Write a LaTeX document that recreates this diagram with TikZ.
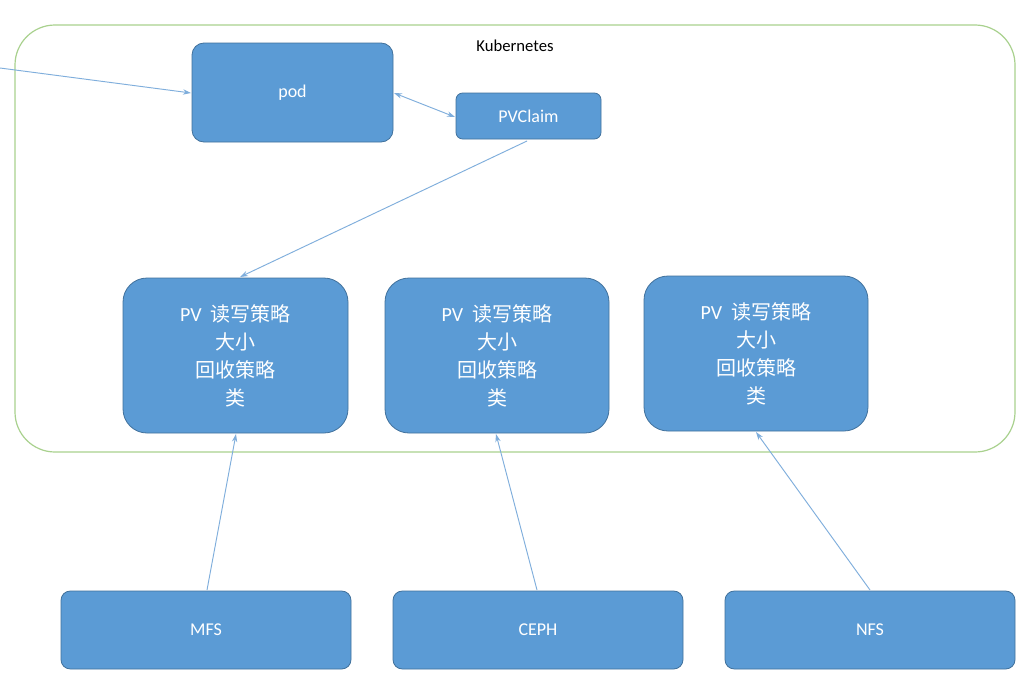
\documentclass[tikz,border=0pt]{standalone}
\usepackage{fontspec}
\setmainfont{Carlito}
\newfontfamily\cjk{Noto Sans CJK SC}
\usetikzlibrary{arrows.meta}
\definecolor{bfill}{HTML}{5B9BD5}
\definecolor{bdraw}{HTML}{41719C}
\definecolor{gline}{HTML}{A9D18E}
\definecolor{aline}{HTML}{7FAEDC}
\begin{document}
\begin{tikzpicture}[x=0.75pt,y=-0.75pt,
  box/.style={draw=bdraw,fill=bfill,rounded corners=9pt,text=white,font=\fontsize{13.5}{16}\selectfont,line width=0.6pt},
  pv/.style={box,rounded corners=18pt,align=center,font=\fontsize{15}{21}\selectfont},
  conn/.style={draw=aline,line width=0.7pt,-{Stealth[length=6pt,width=4pt]}}]
\useasboundingbox (0,0) rectangle (1024,678);
\fill[white] (0,0) rectangle (1024,678);
\draw[gline,line width=0.9pt,rounded corners=30pt] (15,25) rectangle (1015,452);
\node[font=\fontsize{12.5}{14}\selectfont] (k8s) at (515,46) {Kubernetes};
\node[box,minimum width=201\pgflinewidth] (pod) at (292.5,92.5) {};
\path[box] (192,43) rectangle (393,142);
\node[text=white,font=\fontsize{13.5}{16}\selectfont] (podt) at (292.5,92.5) {pod};
\path[box,rounded corners=5pt] (456,93) rectangle (601,139);
\node[text=white,font=\fontsize{13.5}{16}\selectfont] (pvc) at (528.5,116) {PVClaim};
\foreach \n/\xa/\ya/\xb/\yb in {pv1/123/278/348/433,pv2/385/278/609/433,pv3/644/276/868/431}{
  \path[pv] (\xa,\ya) rectangle (\xb,\yb);
  \node[text=white,align=center,font=\fontsize{15}{21}\selectfont] (\n) at ({(\xa+\xb)/2},{(\ya+\yb)/2}) {PV\ \ {\cjk 读写策略}\\{\cjk 大小}\\{\cjk 回收策略}\\{\cjk 类}};
}
\foreach \n/\xa/\t in {mfs/61/MFS,ceph/393/CEPH,nfs/725/NFS}{
  \path[box,rounded corners=7pt] (\xa,591) rectangle (\xa+290,669);
  \node[text=white,font=\fontsize{13.5}{16}\selectfont] (\n) at (\xa+145,630) {\t};
}
\coordinate (ext) at (0,68);
\coordinate (podL) at (191,93);
\coordinate (podR) at (394,93);
\coordinate (pvcL) at (455,117);
\coordinate (pvcB) at (527,141);
\coordinate (pv1T) at (240,277);
\coordinate (pv1B) at (236,434);
\coordinate (pv2B) at (496,434);
\coordinate (pv3B) at (756,432);
\coordinate (mfsT) at (207,590);
\coordinate (cephT) at (537,590);
\coordinate (nfsT) at (870,590);
\draw[conn] (ext) -- (podL);
\draw[conn,{Stealth[length=6pt,width=4pt]}-{Stealth[length=6pt,width=4pt]}] (podR) -- (pvcL);
\draw[conn] (pvcB) -- (pv1T);
\draw[conn] (mfsT) -- (pv1B);
\draw[conn] (cephT) -- (pv2B);
\draw[conn] (nfsT) -- (pv3B);
\end{tikzpicture}
\end{document}
